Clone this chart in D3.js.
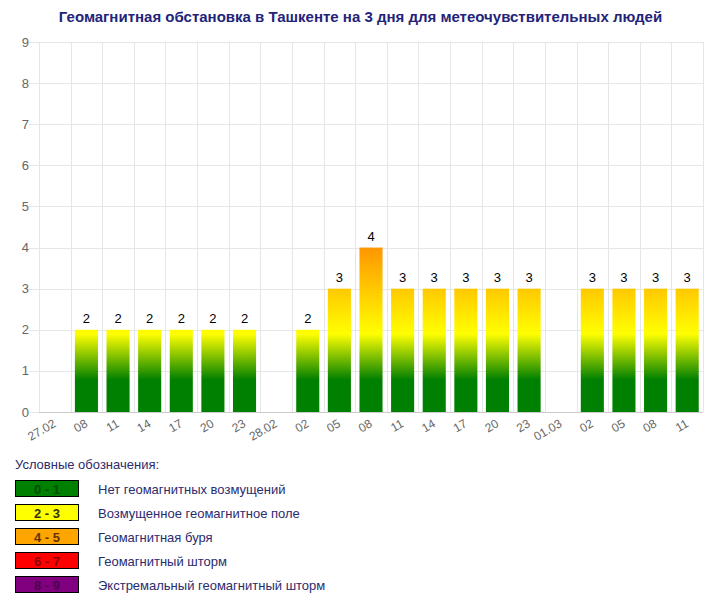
<!DOCTYPE html>
<html>
<head>
<meta charset="utf-8">
<script src="https://cdn.jsdelivr.net/npm/d3@7"></script>
<style>
  body { margin: 0; background: #fff; }
  svg { font-family: "Liberation Sans", Arial, sans-serif; }
</style>
</head>
<body>
<div id="chart"></div>
<script>
var titleText = "Геомагнитная обстановка в Ташкенте на 3 дня для метеочувствительных людей";
var categories = ["27.02","08","11","14","17","20","23","28.02","02","05","08","11","14","17","20","23","01.03","02","05","08","11"];
var kpValues   = [null,2,2,2,2,2,2,null,2,3,4,3,3,3,3,3,null,3,3,3,3];
var yTicks     = [0,1,2,3,4,5,6,7,8,9];

var legendTitle      = "Условные обозначения:";
var legendRanges     = ["0 - 1","2 - 3","4 - 5","6 - 7","8 - 9"];
var legendLabels     = ["Нет геомагнитных возмущений","Возмущенное геомагнитное поле","Геомагнитная буря","Геомагнитный шторм","Экстремальный геомагнитный шторм"];
var legendColors     = ["#008000","#ffff00","#ffa500","#ff0000","#800080"];
var legendTextColors = ["#004d00","#333300","#663300","#8b0000","#4d004d"];

var W = 721, H = 606;
var m = {left: 39, right: 18, top: 42, bottom: 194};

var svg = d3.select("#chart").append("svg")
  .attr("width", W)
  .attr("height", H);

var x = d3.scaleBand()
  .domain(d3.range(categories.length))
  .range([m.left, W - m.right])
  .paddingInner(0.27)
  .paddingOuter(0.135);
var band = d3.scaleBand()
  .domain(d3.range(categories.length))
  .range([m.left, W - m.right]);
var y = d3.scaleLinear().domain([0, 9]).range([H - m.bottom, m.top]);

//gradient in value space, shared by every bar
var grad = svg.append("defs").append("linearGradient")
  .attr("id", "kpGrad")
  .attr("gradientUnits", "userSpaceOnUse")
  .attr("x1", 0).attr("x2", 0)
  .attr("y1", y(0)).attr("y2", y(9));
var stops = [[0,"#008000"],[0.78,"#008000"],[1.9,"#ffff00"],[4,"#ff9600"],[6,"#ff0000"],[8,"#800080"],[9,"#800080"]];
grad.selectAll("stop").data(stops).enter().append("stop")
  .attr("offset", function(d){ return d[0]/9; })
  .attr("stop-color", function(d){ return d[1]; });

//title
svg.append("text")
  .attr("x", W/2).attr("y", 22)
  .attr("text-anchor", "middle")
  .attr("font-size", "15px")
  .attr("font-weight", "bold")
  .attr("fill", "#23237a")
  .text(titleText);

//horizontal grid
svg.append("g").selectAll("line").data(yTicks).enter().append("line")
  .attr("x1", m.left - 10).attr("x2", W - m.right)
  .attr("y1", function(d){ return Math.round(y(d)) + 0.5; })
  .attr("y2", function(d){ return Math.round(y(d)) + 0.5; })
  .attr("stroke", "#e6e6e6");

//vertical grid at band edges
var edges = d3.range(categories.length + 1).map(function(i){
  return i < categories.length ? band(i) : band(i - 1) + band.bandwidth();
});
svg.append("g").selectAll("line").data(edges).enter().append("line")
  .attr("x1", function(d){ return Math.round(d) + 0.5; })
  .attr("x2", function(d){ return Math.round(d) + 0.5; })
  .attr("y1", y(9)).attr("y2", y(0))
  .attr("stroke", "#e6e6e6");

//y labels
svg.append("g").selectAll("text").data(yTicks).enter().append("text")
  .attr("x", 29)
  .attr("y", function(d){ return y(d); })
  .attr("dy", "0.35em")
  .attr("text-anchor", "end")
  .attr("font-size", "13px")
  .attr("fill", "#666")
  .text(function(d){ return d; });

//bars
var data = kpValues.map(function(v, i){ return {i: i, v: v}; })
  .filter(function(d){ return d.v !== null; });

svg.append("g").selectAll("rect").data(data).enter().append("rect")
  .attr("x", function(d){ return x(d.i); })
  .attr("width", x.bandwidth())
  .attr("y", function(d){ return y(d.v); })
  .attr("height", function(d){ return y(0) - y(d.v); })
  .attr("fill", "url(#kpGrad)");

svg.append("g").selectAll("text").data(data).enter().append("text")
  .attr("x", function(d){ return x(d.i) + x.bandwidth()/2; })
  .attr("y", function(d){ return y(d.v) - 7; })
  .attr("text-anchor", "middle")
  .attr("font-size", "13px")
  .attr("fill", "#000")
  .text(function(d){ return d.v; });

//x axis line
svg.append("line")
  .attr("x1", m.left).attr("x2", W - m.right)
  .attr("y1", Math.round(y(0)) + 0.5).attr("y2", Math.round(y(0)) + 0.5)
  .attr("stroke", "#ccc");

//x labels
svg.append("g").selectAll("text").data(categories).enter().append("text")
  .attr("transform", function(d, i){
    return "translate(" + (band(i) + band.bandwidth()/2 + 2) + "," + (y(0) + 14) + ") rotate(-30)";
  })
  .attr("text-anchor", "end")
  .attr("font-size", "12px")
  .attr("fill", "#666")
  .text(function(d){ return d; });

//legend
var lg = svg.append("g").attr("transform", "translate(15,0)");
lg.append("text")
  .attr("x", 0).attr("y", 469)
  .attr("font-size", "13px")
  .attr("fill", "#2b2b6e")
  .text(legendTitle);

var rows = lg.selectAll("g.row").data(legendRanges).enter().append("g")
  .attr("class", "row")
  .attr("transform", function(d, i){ return "translate(0," + (480 + i*24) + ")"; });
rows.append("rect")
  .attr("x", 0.5).attr("y", 0.5)
  .attr("width", 63).attr("height", 16)
  .attr("fill", function(d, i){ return legendColors[i]; })
  .attr("stroke", "#000");
rows.append("text")
  .attr("x", 32).attr("y", 9)
  .attr("dy", "0.35em")
  .attr("text-anchor", "middle")
  .attr("font-size", "13px")
  .attr("font-weight", "bold")
  .attr("fill", function(d, i){ return legendTextColors[i]; })
  .text(function(d){ return d; });
rows.append("text")
  .attr("x", 83).attr("y", 9)
  .attr("dy", "0.35em")
  .attr("font-size", "13px")
  .attr("fill", "#2b2b6e")
  .text(function(d, i){ return legendLabels[i]; });
</script>
</body>
</html>
